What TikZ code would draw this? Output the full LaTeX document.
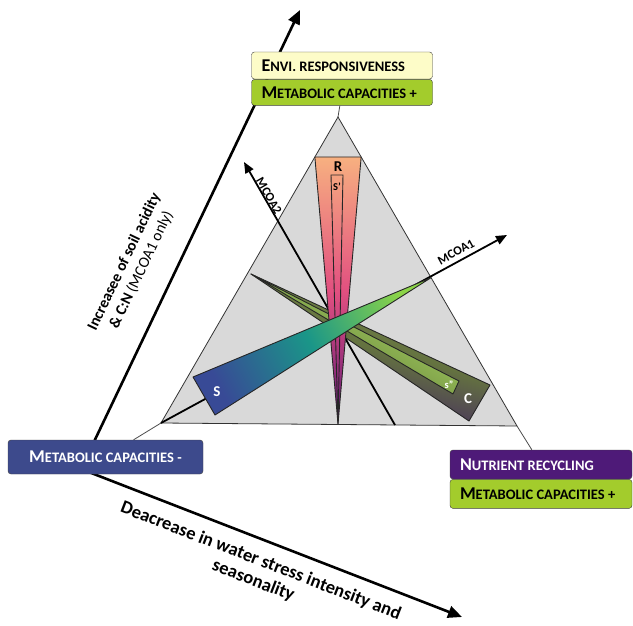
\documentclass[tikz,border=0pt]{standalone}
\usepackage{fontspec}
\setmainfont{Carlito}
\usepackage{xcolor}
\definecolor{triGray}{RGB}{217,217,217}
\definecolor{envYellow}{RGB}{253,252,200}
\definecolor{metGreen}{RGB}{163,204,44}
\definecolor{metBlue}{RGB}{61,74,140}
\definecolor{nutPurple}{RGB}{78,26,120}
\definecolor{rTop}{RGB}{247,176,128}
\definecolor{rMid}{RGB}{226,80,128}
\definecolor{rBot}{RGB}{96,24,120}
\definecolor{sLeft}{RGB}{56,74,150}
\definecolor{sMid}{RGB}{26,150,136}
\definecolor{sRight}{RGB}{140,212,72}
\definecolor{cTop}{RGB}{122,142,74}
\definecolor{cMid}{RGB}{100,114,64}
\definecolor{cBot}{RGB}{62,28,104}
\definecolor{iTop}{RGB}{176,226,104}
\definecolor{iBot}{RGB}{92,112,52}
\usepackage{tikz}
\usetikzlibrary{positioning,arrows.meta,calc}

\newcommand{\smc}[2]{{\fontsize{18}{20}\selectfont #1}{\fontsize{14.5}{20}\selectfont #2}}

\begin{document}
\begin{tikzpicture}[x=1pt,y=-1pt,
  box/.style={draw=black!75,rounded corners=3pt,font=\bfseries,inner xsep=10pt,inner ysep=0pt,text width=161pt,align=left,minimum height=27pt},
  tri/.style={fill=triGray,draw=black!80,line width=0.8pt},
  wedge/.style={draw=black!85,line width=0.9pt,line join=round},
  link/.style={draw=black!70,line width=0.8pt},
  axis/.style={line width=2.6pt,-{Triangle[length=14pt,width=12pt]}},
  mcoa/.style={line width=1.8pt,-{Triangle[length=11pt,width=9pt]}},
  alab/.style={font=\fontsize{15.5}{19}\selectfont,align=center},
  mlab/.style={font=\bfseries\fontsize{12.5}{12}\selectfont,inner sep=1pt},
  wl/.style={font=\bfseries\fontsize{15}{15}\selectfont,inner sep=0pt},
  sl/.style={font=\bfseries\fontsize{10.5}{10}\selectfont,inner sep=0pt}]
  \useasboundingbox (0,0) rectangle (633,626);

  % big gradient axes
  \coordinate (o) at (81,469);
  \coordinate (up) at (300,10);
  \coordinate (dn) at (462,617);
  \draw[axis] (o) -- (up);
  \draw[axis] (o) -- (dn);
  \node[alab,rotate=64.5] (acid) at (133,266) {\textbf{Increasee of soil acidity}\\\textbf{\& C:N} (MCOA1 only)};
  \node[alab,font=\bfseries\fontsize{18.5}{21}\selectfont,rotate=-21.2] (water) at (257,571) {Deacrease in water stress intensity and\\seasonality};

  % ternary triangle
  \coordinate (ta) at (338,117);
  \coordinate (tl) at (161,423);
  \coordinate (tr) at (517,426);
  \filldraw[tri] (ta) -- (tl) -- (tr) -- cycle;

  % MCOA axes
  \coordinate (m1) at (507,235);
  \coordinate (m2b) at (395,425);
  \coordinate (m2) at (244,162);
  \draw[mcoa] (tl) -- (m1);
  \draw[mcoa] (m2b) -- (m2);
  \node[mlab,rotate=28.7] (m1lab) at (456,252) {MCOA1};
  \node[mlab,rotate=-60] (m2lab) at (269,196) {MCOA2};

  % C wedge
  \coordinate (ct) at (251,274);
  \shadedraw[wedge,top color=cTop,bottom color=cBot,middle color=cMid,shading angle=-15] (ct) -- (490,385) -- (469,421) -- cycle;
  \shadedraw[wedge,top color=iTop,bottom color=iBot,shading angle=-29.5] (ct) -- (459,381) -- (453,394) -- cycle;
  \node[sl,text=white] (sbis) at (449,385) {s''};
  \node[wl,text=white] (clab) at (468,399) {C};

  % R wedge
  \coordinate (rl) at ($(ta)!0.1307!(tl)$);
  \coordinate (rr) at ($(ta)!0.1294!(tr)$);
  \coordinate (rt) at (338,424);
  \shadedraw[wedge,top color=rTop,bottom color=rBot,middle color=rMid] (rl) -- (rr) -- (rt) -- cycle;
  \draw[wedge] (rt) -- (331,175) -- (343,175) -- cycle;
  \node[wl] (rlab) at (338,167) {R};
  \node[sl] (sprime) at (337,187) {S'};

  % S wedge
  \coordinate (st) at ($(ta)!0.52!(tr)$);
  \shadedraw[wedge,left color=sLeft,right color=sRight,middle color=sMid,shading angle=117.6] (st) -- (193,377) -- (215,415) -- cycle;
  \node[wl,text=white] (slab) at (217,392) {S};

  % boxes
  \node[box,fill=envYellow] (envi) at (342,65.5) {\smc{E}{NVI. RESPONSIVENESS}};
  \node[box,fill=metGreen,below=0pt of envi,minimum height=26pt] (met1) {\smc{M}{ETABOLIC CAPACITIES +}};
  \node[box,fill=metBlue,text=white,text width=175pt,align=center,minimum height=34pt] (mneg) at (105.5,457) {\smc{M}{ETABOLIC CAPACITIES -}};
  \node[box,fill=nutPurple,text=white,text width=162pt,minimum height=29pt] (nut) at (541,464.5) {\smc{N}{UTRIENT RECYCLING}};
  \node[box,fill=metGreen,below=0pt of nut,text width=162pt,minimum height=29pt] (met2) {\smc{M}{ETABOLIC CAPACITIES +}};

  % corner links
  \draw[link] (ta) -- (met1);
  \draw[link] (tl) -- (mneg);
  \draw[link] (tr) -- (nut);
\end{tikzpicture}
\end{document}
